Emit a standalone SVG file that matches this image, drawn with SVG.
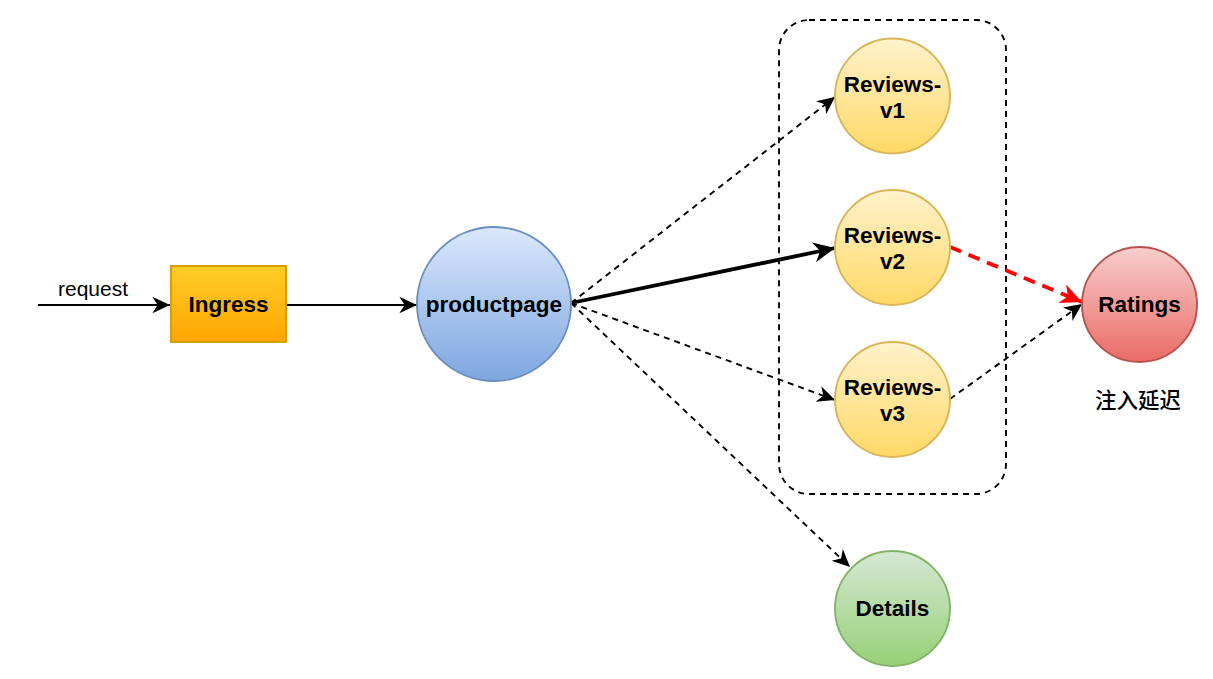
<svg xmlns="http://www.w3.org/2000/svg" width="1213" height="679" viewBox="0 0 1213 679">
<style>
.lbl{font-family:"Liberation Sans",Arial,Helvetica,sans-serif;font-weight:bold;font-size:22.5px;fill:#000;text-anchor:middle}
.req{font-family:"Liberation Sans",Arial,Helvetica,sans-serif;font-size:21px;fill:#000;text-anchor:middle}
.cjk{font-family:"Liberation Sans","Noto Sans CJK SC",sans-serif;font-size:21.5px;font-weight:500;fill:#000;text-anchor:middle}
.ln{fill:none;stroke:#000;stroke-width:1.9}
.bold{fill:none;stroke:#000;stroke-width:3.8}
.dash{stroke-dasharray:6 5}
.rev{fill:url(#gRev);stroke:#d6b656;stroke-width:1.9}
</style>
<defs>
<linearGradient id="gIng" x1="0" y1="0" x2="0" y2="1"><stop offset="0" stop-color="#ffcd28"/><stop offset="1" stop-color="#ffa500"/></linearGradient>
<linearGradient id="gProd" x1="0" y1="0" x2="0" y2="1"><stop offset="0" stop-color="#dae8fc"/><stop offset="1" stop-color="#7ea6e0"/></linearGradient>
<linearGradient id="gRev" x1="0" y1="0" x2="0" y2="1"><stop offset="0" stop-color="#fff2cc"/><stop offset="1" stop-color="#ffd966"/></linearGradient>
<linearGradient id="gRat" x1="0" y1="0" x2="0" y2="1"><stop offset="0" stop-color="#f8cecc"/><stop offset="1" stop-color="#ea6b66"/></linearGradient>
<linearGradient id="gDet" x1="0" y1="0" x2="0" y2="1"><stop offset="0" stop-color="#d5e8d4"/><stop offset="1" stop-color="#97d077"/></linearGradient>
<marker id="arr" markerUnits="userSpaceOnUse" markerWidth="20" markerHeight="20" viewBox="-16 -8 17 16" refX="0" refY="0" orient="auto">
<path d="M0,0 L-15,-7 L-10.5,0 L-15,7 Z" fill="#000"/>
</marker>
<marker id="arrB" markerUnits="userSpaceOnUse" markerWidth="24" markerHeight="24" viewBox="-18 -9 19 18" refX="0" refY="0" orient="auto">
<path d="M0,0 L-17,-8 L-12,0 L-17,8 Z" fill="#000"/>
</marker>
<marker id="arrR" markerUnits="userSpaceOnUse" markerWidth="24" markerHeight="24" viewBox="-18 -9 19 18" refX="0" refY="0" orient="auto">
<path d="M0,0 L-17,-8 L-12,0 L-17,8 Z" fill="#ff0000"/>
</marker>
</defs>

<g id="group-reviews">
<rect x="779" y="20" width="227" height="474" rx="30" ry="30" fill="none" stroke="#000" stroke-width="1.9" stroke-dasharray="6 5"/>
</g>

<g id="connectors">
<line class="ln" x1="38" y1="305" x2="170" y2="305" marker-end="url(#arr)"/>
<text class="req" x="93" y="296">request</text>
<line class="ln" x1="286" y1="305" x2="417" y2="305" marker-end="url(#arr)"/>
<line class="ln dash" x1="571" y1="303" x2="835" y2="97" marker-end="url(#arr)"/>
<line class="bold" x1="571" y1="303" x2="835" y2="248" marker-end="url(#arrB)"/>
<line class="ln dash" x1="571" y1="303" x2="835" y2="400" marker-end="url(#arr)"/>
<line class="ln dash" x1="571" y1="303" x2="850" y2="567" marker-end="url(#arr)"/>
<line fill="none" stroke="#ff0000" stroke-width="3.8" stroke-dasharray="12 8" x1="950" y1="247" x2="1082" y2="302" marker-end="url(#arrR)"/>
<line class="ln dash" x1="950" y1="399" x2="1082" y2="304" marker-end="url(#arr)"/>
</g>

<g id="ingress">
<rect x="171" y="266" width="115" height="76" fill="url(#gIng)" stroke="#d79b00" stroke-width="1.9"/>
<text class="lbl" x="228.5" y="312">Ingress</text>
</g>

<g id="productpage">
<circle cx="494" cy="304" r="77" fill="url(#gProd)" stroke="#6c8ebf" stroke-width="1.9"/>
<text class="lbl" x="494" y="312">productpage</text>
</g>

<g id="reviews-v1">
<circle class="rev" cx="892.5" cy="96" r="57.5"/>
<text class="lbl" x="892.5" y="92">Reviews-</text>
<text class="lbl" x="892.5" y="118">v1</text>
</g>

<g id="reviews-v2">
<circle class="rev" cx="892.5" cy="247.5" r="57.5"/>
<text class="lbl" x="892.5" y="243">Reviews-</text>
<text class="lbl" x="892.5" y="269">v2</text>
</g>

<g id="reviews-v3">
<circle class="rev" cx="892.5" cy="399.5" r="57.5"/>
<text class="lbl" x="892.5" y="395">Reviews-</text>
<text class="lbl" x="892.5" y="421">v3</text>
</g>

<g id="ratings">
<circle cx="1139.5" cy="304.5" r="57.5" fill="url(#gRat)" stroke="#b85450" stroke-width="1.9"/>
<text class="lbl" x="1139.5" y="312">Ratings</text>
<text class="cjk" x="1138" y="408">注入延迟</text>
</g>

<g id="details">
<circle cx="892.5" cy="608.5" r="57.5" fill="url(#gDet)" stroke="#82b366" stroke-width="1.9"/>
<text class="lbl" x="892.5" y="616">Details</text>
</g>
</svg>
